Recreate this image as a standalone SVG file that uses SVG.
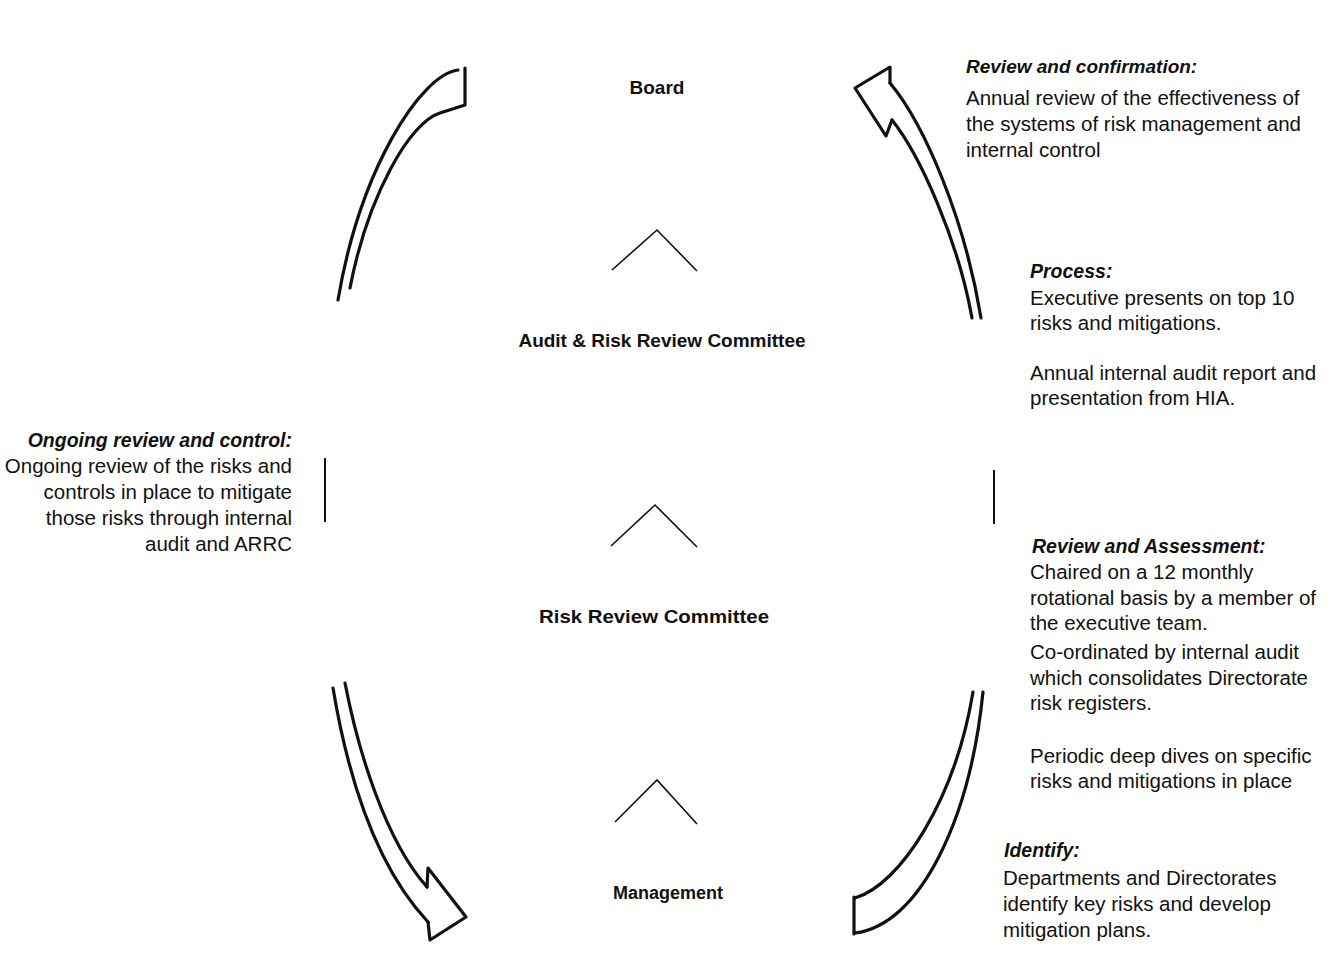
<svg xmlns="http://www.w3.org/2000/svg" width="1329" height="975" viewBox="0 0 1329 975">
<style>
.bg{fill:#ffffff}
.lvl{font-family:"Liberation Sans",Arial,sans-serif;font-weight:bold;font-size:19px;fill:#111;text-anchor:middle}
.hd{font-family:"Liberation Sans",Arial,sans-serif;font-weight:bold;font-style:italic;font-size:19.5px;fill:#111}
.tx{font-family:"Liberation Sans",Arial,sans-serif;font-size:20.5px;fill:#111}
.ln{fill:none;stroke:#111;stroke-width:3.2;stroke-linecap:round;stroke-linejoin:round}
.chev{fill:none;stroke:#111;stroke-width:1.6}
.bar{stroke:#111;stroke-width:2}
</style>
<rect class="bg" x="0" y="0" width="1329" height="975"/>

<g id="node-board"><text class="lvl" x="657" y="94">Board</text></g>
<g id="node-arrc"><text class="lvl" x="662" y="347">Audit &amp; Risk Review Committee</text></g>
<g id="node-rrc"><text class="lvl" x="654" y="623" textLength="230" lengthAdjust="spacingAndGlyphs">Risk Review Committee</text></g>
<g id="node-mgmt"><text class="lvl" x="668" y="899" style="font-size:18px">Management</text></g>

<g id="chevrons">
<polyline class="chev" points="612,270 657,230 697,271"/>
<polyline class="chev" points="611,546 655,505 697,547"/>
<polyline class="chev" points="615,822 657,780 697,824"/>
</g>

<g id="connectors">
<!-- top-left curved band -->
<path class="ln" d="M458,70 C420,75 360,170 338,300"/>
<path class="ln" d="M465,68 L465,105 L440,113 C410,122 368,195 350,288"/>
<!-- top-right curved arrow -->
<path class="ln" d="M890,83 C925,125 965,220 981,318"/>
<path class="ln" d="M892,120 C920,155 958,240 972,318"/>
<polyline class="ln" points="890,83 890,67 855,88 886,136 892,120"/>
<!-- bottom-left curved arrow -->
<path class="ln" d="M333,688 C345,760 370,860 428,922"/>
<path class="ln" d="M345,683 C358,750 385,840 427,887"/>
<polyline class="ln" points="427,887 428,868 466,917 430,940 428,922"/>
<!-- bottom-right curved band -->
<path class="ln" d="M855,898 C900,885 955,800 973,692"/>
<path class="ln" d="M855,933 C920,925 970,820 983,692"/>
<line class="ln" x1="854" y1="897" x2="854" y2="934"/>
<!-- side bars -->
<line class="bar" x1="325" y1="458" x2="325" y2="522"/>
<line class="bar" x1="994" y1="470" x2="994" y2="524"/>
</g>

<g id="note-confirmation">
<text class="hd" x="966" y="73" style="font-size:19px">Review and confirmation:</text>
<text class="tx" x="966" y="105">Annual review of the effectiveness of</text>
<text class="tx" x="966" y="131">the systems of risk management and</text>
<text class="tx" x="966" y="157">internal control</text>
</g>

<g id="note-process">
<text class="hd" x="1030" y="278">Process:</text>
<text class="tx" x="1030" y="305">Executive presents on top 10</text>
<text class="tx" x="1030" y="330">risks and mitigations.</text>
<text class="tx" x="1030" y="380">Annual internal audit report and</text>
<text class="tx" x="1030" y="405">presentation from HIA.</text>
</g>

<g id="note-assessment">
<text class="hd" x="1032" y="553">Review and Assessment:</text>
<text class="tx" x="1030" y="579">Chaired on a 12 monthly</text>
<text class="tx" x="1030" y="605">rotational basis by a member of</text>
<text class="tx" x="1030" y="630">the executive team.</text>
<text class="tx" x="1030" y="659">Co-ordinated by internal audit</text>
<text class="tx" x="1030" y="685">which consolidates Directorate</text>
<text class="tx" x="1030" y="710">risk registers.</text>
<text class="tx" x="1030" y="763">Periodic deep dives on specific</text>
<text class="tx" x="1030" y="788">risks and mitigations in place</text>
</g>

<g id="note-identify">
<text class="hd" x="1004" y="857">Identify:</text>
<text class="tx" x="1003" y="885">Departments and Directorates</text>
<text class="tx" x="1003" y="911">identify key risks and develop</text>
<text class="tx" x="1003" y="937">mitigation plans.</text>
</g>

<g id="note-ongoing" text-anchor="end">
<text class="hd" x="292" y="447">Ongoing review and control:</text>
<text class="tx" x="292" y="473">Ongoing review of the risks and</text>
<text class="tx" x="292" y="499">controls in place to mitigate</text>
<text class="tx" x="292" y="525">those risks through internal</text>
<text class="tx" x="292" y="551">audit and ARRC</text>
</g>
</svg>
